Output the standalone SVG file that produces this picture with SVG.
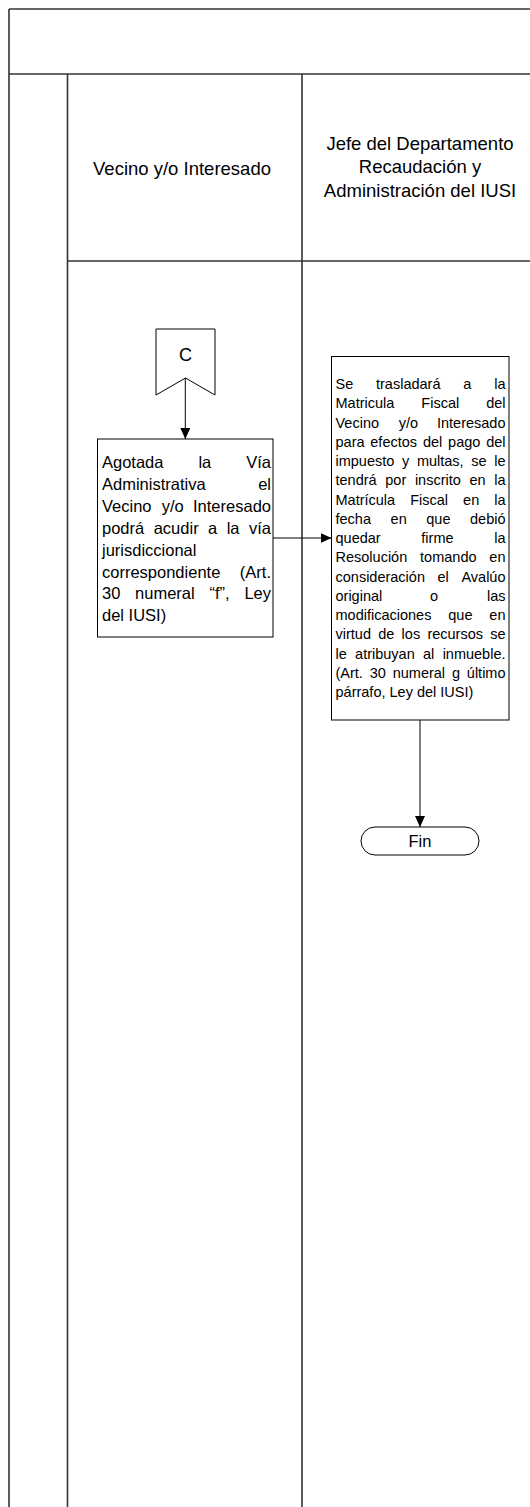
<svg xmlns="http://www.w3.org/2000/svg" width="530" height="1507" viewBox="0 0 530 1507">
<style>
.lane{stroke:#333;stroke-width:1.6;fill:none}
.box{fill:#fff;stroke:#000;stroke-width:1}
.hd{font-family:"Liberation Sans",Arial,sans-serif;font-size:18.5px;fill:#000;text-anchor:middle}
.tl{font-family:"Liberation Sans",Arial,sans-serif;font-size:16.5px;fill:#000}
.tr{font-family:"Liberation Sans",Arial,sans-serif;font-size:14.5px;fill:#000}
.e{text-anchor:end}
.conn{stroke:#000;stroke-width:1;fill:none}
</style>
<defs>
<marker id="ah" markerUnits="userSpaceOnUse" markerWidth="12" markerHeight="10" refX="11" refY="5" orient="auto">
<path d="M0,0 L11,5 L0,10 Z" fill="#000"/>
</marker>
</defs>
<rect width="530" height="1507" fill="#fff"/>
<g id="frame">
<line class="lane" x1="9" y1="9" x2="530" y2="9"/>
<line class="lane" x1="9" y1="9" x2="9" y2="1507"/>
<line class="lane" x1="9" y1="74" x2="530" y2="74"/>
<line class="lane" x1="67.5" y1="74" x2="67.5" y2="1507"/>
<line class="lane" x1="302" y1="74" x2="302" y2="1507"/>
<line class="lane" x1="67.5" y1="261" x2="530" y2="261"/>
</g>
<g id="lane-vecino">
<text class="hd" x="182" y="175">Vecino y/o Interesado</text>
</g>
<g id="lane-jefe">
<text class="hd" x="420" y="150">Jefe del Departamento</text>
<text class="hd" x="420" y="173.3">Recaudación y</text>
<text class="hd" x="420" y="196.7">Administración del IUSI</text>
</g>
<g id="connectors">
<line class="conn" x1="185.3" y1="378" x2="185.3" y2="439" marker-end="url(#ah)"/>
<line class="conn" x1="273" y1="538" x2="331.5" y2="538" marker-end="url(#ah)"/>
<line class="conn" x1="420" y1="720" x2="420" y2="827" marker-end="url(#ah)"/>
</g>
<g id="node-C">
<path class="box" d="M156,329 L215,329 L215,395 L185.5,378 L156,395 Z"/>
<text x="185.5" y="360.5" font-family="Liberation Sans, Arial, sans-serif" font-size="18" text-anchor="middle">C</text>
</g>
<g id="node-agotada">
<rect class="box" x="97.5" y="439" width="175.5" height="198"/>
<g class="tl">
<text x="102" y="468">Agotada</text><text x="198.4" y="468">la</text><text class="e" x="271" y="468">Vía</text>
<text x="102" y="489.9">Administrativa</text><text class="e" x="271" y="489.9">el</text>
<text x="102" y="511.8">Vecino</text><text x="161.7" y="511.8">y/o</text><text class="e" x="271" y="511.8">Interesado</text>
<text x="102" y="533.7">podrá</text><text x="153.7" y="533.7">acudir</text><text x="208.1" y="533.7">a</text><text x="226.7" y="533.7">la</text><text class="e" x="271" y="533.7">vía</text>
<text x="102" y="555.6">jurisdiccional</text>
<text x="102" y="577.5">correspondiente</text><text class="e" x="271" y="577.5">(Art.</text>
<text x="102" y="599.4">30</text><text x="135.1" y="599.4">numeral</text><text x="209.5" y="599.4">“f”,</text><text class="e" x="271" y="599.4">Ley</text>
<text x="102" y="621.3">del IUSI)</text>
</g>
</g>
<g id="node-traslado">
<rect class="box" x="331.5" y="356.5" width="177.5" height="363.5"/>
<g class="tr">
<text x="335.5" y="389">Se</text><text x="376" y="389">trasladará</text><text x="463.3" y="389">a</text><text class="e" x="505.5" y="389">la</text>
<text x="335.5" y="408.25">Matricula</text><text x="421.3" y="408.25">Fiscal</text><text class="e" x="505.5" y="408.25">del</text>
<text x="335.5" y="427.5">Vecino</text><text x="398.7" y="427.5">y/o</text><text class="e" x="505.5" y="427.5">Interesado</text>
<text x="335.5" y="446.75">para</text><text x="370.3" y="446.75">efectos</text><text x="422.9" y="446.75">del</text><text x="448.1" y="446.75">pago</text><text class="e" x="505.5" y="446.75">del</text>
<text x="335.5" y="466">impuesto</text><text x="402" y="466">y</text><text x="416.9" y="466">multas,</text><text x="471.3" y="466">se</text><text class="e" x="505.5" y="466">le</text>
<text x="335.5" y="485.25">tendrá</text><text x="385.3" y="485.25">por</text><text x="414.9" y="485.25">inscrito</text><text x="469.5" y="485.25">en</text><text class="e" x="505.5" y="485.25">la</text>
<text x="335.5" y="504.5">Matrícula</text><text x="410.2" y="504.5">Fiscal</text><text x="463.1" y="504.5">en</text><text class="e" x="505.5" y="504.5">la</text>
<text x="335.5" y="523.75">fecha</text><text x="390.6" y="523.75">en</text><text x="426.3" y="523.75">que</text><text class="e" x="505.5" y="523.75">debió</text>
<text x="335.5" y="543">quedar</text><text x="421.3" y="543">firme</text><text class="e" x="505.5" y="543">la</text>
<text x="335.5" y="562.25">Resolución</text><text x="420.1" y="562.25">tomando</text><text class="e" x="505.5" y="562.25">en</text>
<text x="335.5" y="581.5">consideración</text><text x="437.4" y="581.5">el</text><text class="e" x="505.5" y="581.5">Avalúo</text>
<text x="335.5" y="600.75">original</text><text x="429.9" y="600.75">o</text><text class="e" x="505.5" y="600.75">las</text>
<text x="335.5" y="620">modificaciones</text><text x="448.3" y="620">que</text><text class="e" x="505.5" y="620">en</text>
<text x="335.5" y="639.25">virtud</text><text x="378.2" y="639.25">de</text><text x="401.6" y="639.25">los</text><text x="427.4" y="639.25">recursos</text><text class="e" x="505.5" y="639.25">se</text>
<text x="335.5" y="658.5">le</text><text x="355.1" y="658.5">atribuyan</text><text x="423" y="658.5">al</text><text class="e" x="505.5" y="658.5">inmueble.</text>
<text x="335.5" y="677.75">(Art.</text><text x="369.7" y="677.75">30</text><text x="392.7" y="677.75">numeral</text><text x="451.9" y="677.75">g</text><text class="e" x="505.5" y="677.75">último</text>
<text x="335.5" y="697">párrafo, Ley del IUSI)</text>
</g>
</g>
<g id="node-fin">
<rect class="box" x="361" y="827" width="118" height="28" rx="14" ry="14"/>
<text x="420" y="846.5" font-family="Liberation Sans, Arial, sans-serif" font-size="16.5" text-anchor="middle">Fin</text>
</g>
</svg>
